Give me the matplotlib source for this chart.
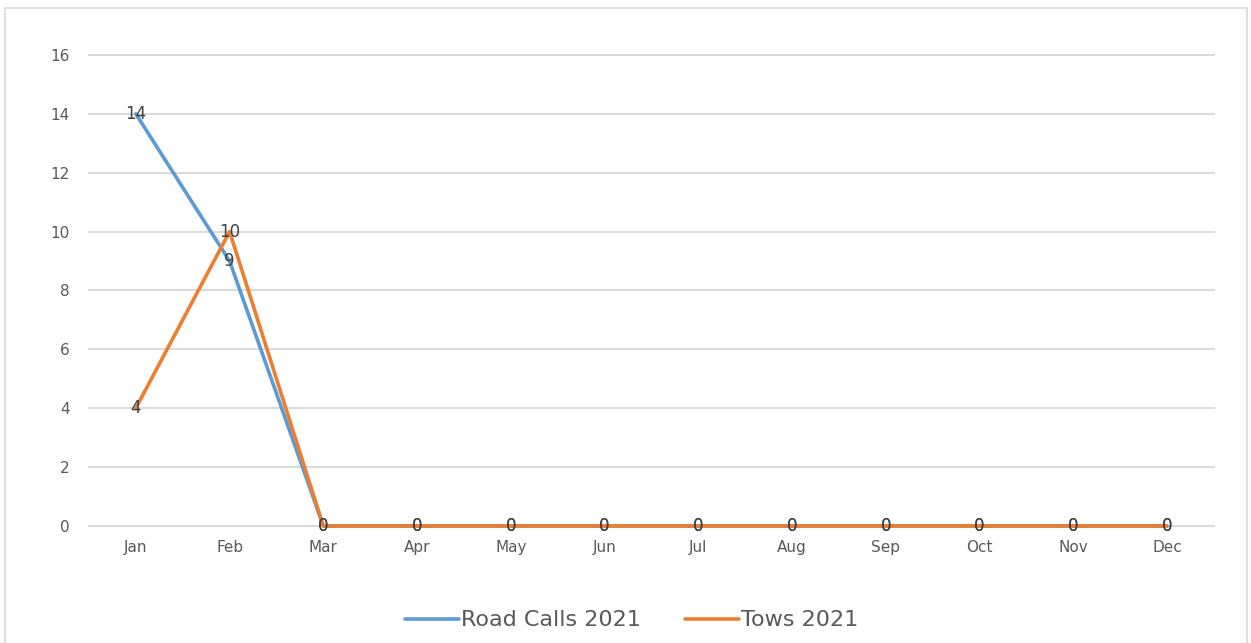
import matplotlib
matplotlib.use('Agg')
import matplotlib.pyplot as plt
from matplotlib.patches import Rectangle

# monthly data
months = ['Jan', 'Feb', 'Mar', 'Apr', 'May', 'Jun', 'Jul', 'Aug', 'Sep', 'Oct', 'Nov', 'Dec']
road_calls = [14, 9, 0, 0, 0, 0, 0, 0, 0, 0, 0, 0]
tows = [4, 10, 0, 0, 0, 0, 0, 0, 0, 0, 0, 0]
y_ticks = [0, 2, 4, 6, 8, 10, 12, 14, 16]

blue = '#5B9BD5'
orange = '#ED7D31'
grey_text = '#595959'

fig = plt.figure(figsize=(12.51, 6.43), dpi=100)
fig.patch.set_facecolor('white')

# chart frame
fig.patches.append(Rectangle((0.004, -0.01), 0.993, 0.998, transform=fig.transFigure,
                             fill=False, edgecolor='#D9D9D9', linewidth=1.2))

ax = fig.add_axes([0.0711, 0.182, 0.8993, 0.7325])
x = list(range(len(months)))

ax.plot(x, road_calls, color=blue, linewidth=2.6, label='Road Calls 2021',
        solid_capstyle='round', clip_on=False, zorder=3)
ax.plot(x, tows, color=orange, linewidth=2.6, label='Tows 2021',
        solid_capstyle='round', clip_on=False, zorder=3)

# value labels centred on the points
for xi, v in zip(x, road_calls):
    ax.text(xi, v, str(v), ha='center', va='center', fontsize=12, color='#404040', zorder=4)
for xi, v in zip(x, tows):
    ax.text(xi, v, str(v), ha='center', va='center', fontsize=12, color='#404040', zorder=4)

ax.set_xlim(-0.5, 11.5)
ax.set_ylim(0, 16)
ax.set_xticks(x)
ax.set_xticklabels(months)
ax.set_yticks(y_ticks)
ax.tick_params(axis='both', length=0, colors=grey_text, labelsize=11)
ax.tick_params(axis='y', pad=14)
ax.tick_params(axis='x', pad=10)
ax.grid(axis='y', color='#D9D9D9', linewidth=1.4)
for gl in ax.get_ygridlines():
    gl.set_clip_on(False)
ax.set_axisbelow(True)
for s in ax.spines.values():
    s.set_visible(False)

leg = fig.legend(loc='center', bbox_to_anchor=(0.505, 0.035), ncol=2, frameon=False,
                 fontsize=16, handlelength=2.4, handletextpad=0.1, columnspacing=2.0)
for t in leg.get_texts():
    t.set_color(grey_text)

fig.savefig('out.png', dpi=100)
